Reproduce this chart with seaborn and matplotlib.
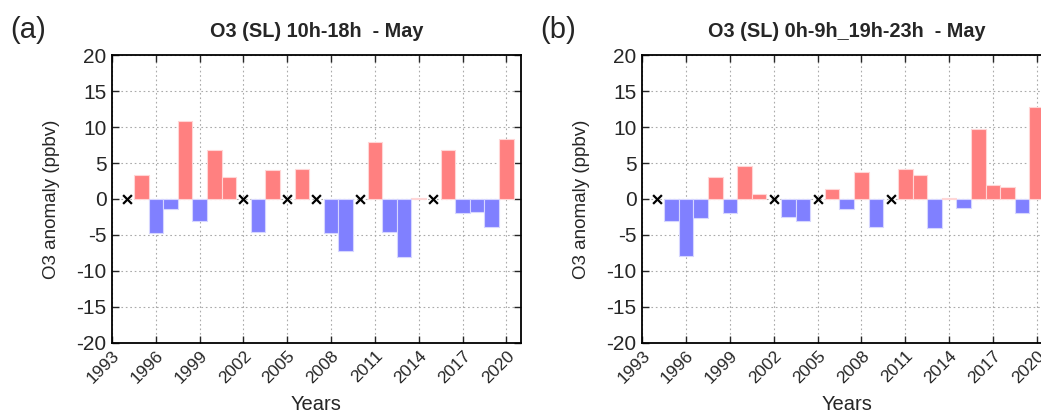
import numpy as np
import pandas as pd
import matplotlib
matplotlib.use("Agg")
import matplotlib.pyplot as plt
import seaborn as sns

sns.set_style("white")
plt.rcParams['font.family'] = ['Liberation Sans', 'DejaVu Sans']

# ---- data ----
years_a = [1995, 1996, 1997, 1998, 1999, 2000, 2001, 2003, 2004, 2006, 2008, 2009,
           2011, 2012, 2013, 2014, 2016, 2017, 2018, 2019, 2020]
vals_a = [3.4, -4.8, -1.4, 10.8, -3.1, 6.8, 3.1, -4.6, 4.0, 4.2, -4.8, -7.2,
          7.9, -4.6, -8.1, 0.2, 6.8, -2.0, -1.8, -3.9, 8.3]
missing_a = [1994, 2002, 2005, 2007, 2010, 2015]

years_b = [1995, 1996, 1997, 1998, 1999, 2000, 2001, 2003, 2004, 2006, 2007, 2008,
           2009, 2011, 2012, 2013, 2014, 2015, 2016, 2017, 2018, 2019, 2020]
vals_b = [-3.1, -8.0, -2.6, 3.1, -2.0, 4.6, 0.7, -2.5, -3.1, 1.4, -1.4, 3.7,
          -3.9, 4.2, 3.3, -4.0, 0.1, -1.3, 9.8, 1.9, 1.7, -1.9, 12.8]
missing_b = [1994, 2002, 2005, 2010]

titles = ["O3 (SL) 10h-18h  - May", "O3 (SL) 0h-9h_19h-23h  - May"]
panel_labels = ["(a)", "(b)"]
xticks = list(range(1993, 2021, 3))
yticks = list(range(-20, 21, 5))

RED = "#FF8080"
BLUE = "#8080FF"

fig = plt.figure(figsize=(10.41, 4.16), dpi=100)
W, H = 1041, 416
ax_a = fig.add_axes([112 / W, (416 - 342.7) / H, 409 / W, 287.4 / H])
ax_b = fig.add_axes([642.3 / W, (416 - 342.7) / H, 409 / W, 287.4 / H])

for ax, yrs, vals, miss, title, plab, labx in [
        (ax_a, years_a, vals_a, missing_a, titles[0], panel_labels[0], 10),
        (ax_b, years_b, vals_b, missing_b, titles[1], panel_labels[1], 540)]:
    df = pd.DataFrame({"year": yrs, "val": vals})
    df["sign"] = np.where(df["val"] >= 0, "pos", "neg")
    sns.barplot(data=df, x="year", y="val", hue="sign", native_scale=True,
                palette={"pos": RED, "neg": BLUE}, width=1.0, dodge=False,
                saturation=1, legend=False, ax=ax, linewidth=0.8, zorder=2)
    for p in ax.patches:
        fc = p.get_facecolor()
        p.set_edgecolor("#ffd6d6" if fc[0] > fc[2] else "#d6d6ff")
    dm = pd.DataFrame({"year": miss, "val": [0] * len(miss)})
    sns.scatterplot(data=dm, x="year", y="val", marker="x", color="black",
                    s=40, linewidth=1.6, ax=ax, zorder=3)
    ax.set_xlim(1993, 2021)
    ax.set_ylim(-20, 20)
    ax.set_xticks(xticks)
    ax.set_xticklabels([str(t) for t in xticks], rotation=45, ha="right",
                       rotation_mode="anchor", fontsize=12.5)
    ax.set_yticks(yticks)
    ax.set_yticklabels([str(t) for t in yticks], fontsize=15)
    ax.tick_params(direction="in", length=5, width=1, top=True, right=True,
                   bottom=True, left=True, pad=4)
    ax.tick_params(axis="x", pad=4)
    ax.grid(True, color="#aaaaaa", linestyle=(0, (1.5, 2.5)), linewidth=0.8, zorder=0)
    ax.set_axisbelow(True)
    for s in ax.spines.values():
        s.set_linewidth(1.3)
        s.set_color("black")
        s.set_visible(True)
    ax.set_xlabel("Years", fontsize=14.5, labelpad=6)
    ax.set_ylabel("O3 anomaly (ppbv)", fontsize=13.5, labelpad=12)
    ax.set_title(title, fontsize=14.3, fontweight="bold", pad=13)
    fig.text(labx / W, 1 - 30 / H, plab, fontsize=21, va="center", ha="left")

fig.savefig("out.png", dpi=100)
